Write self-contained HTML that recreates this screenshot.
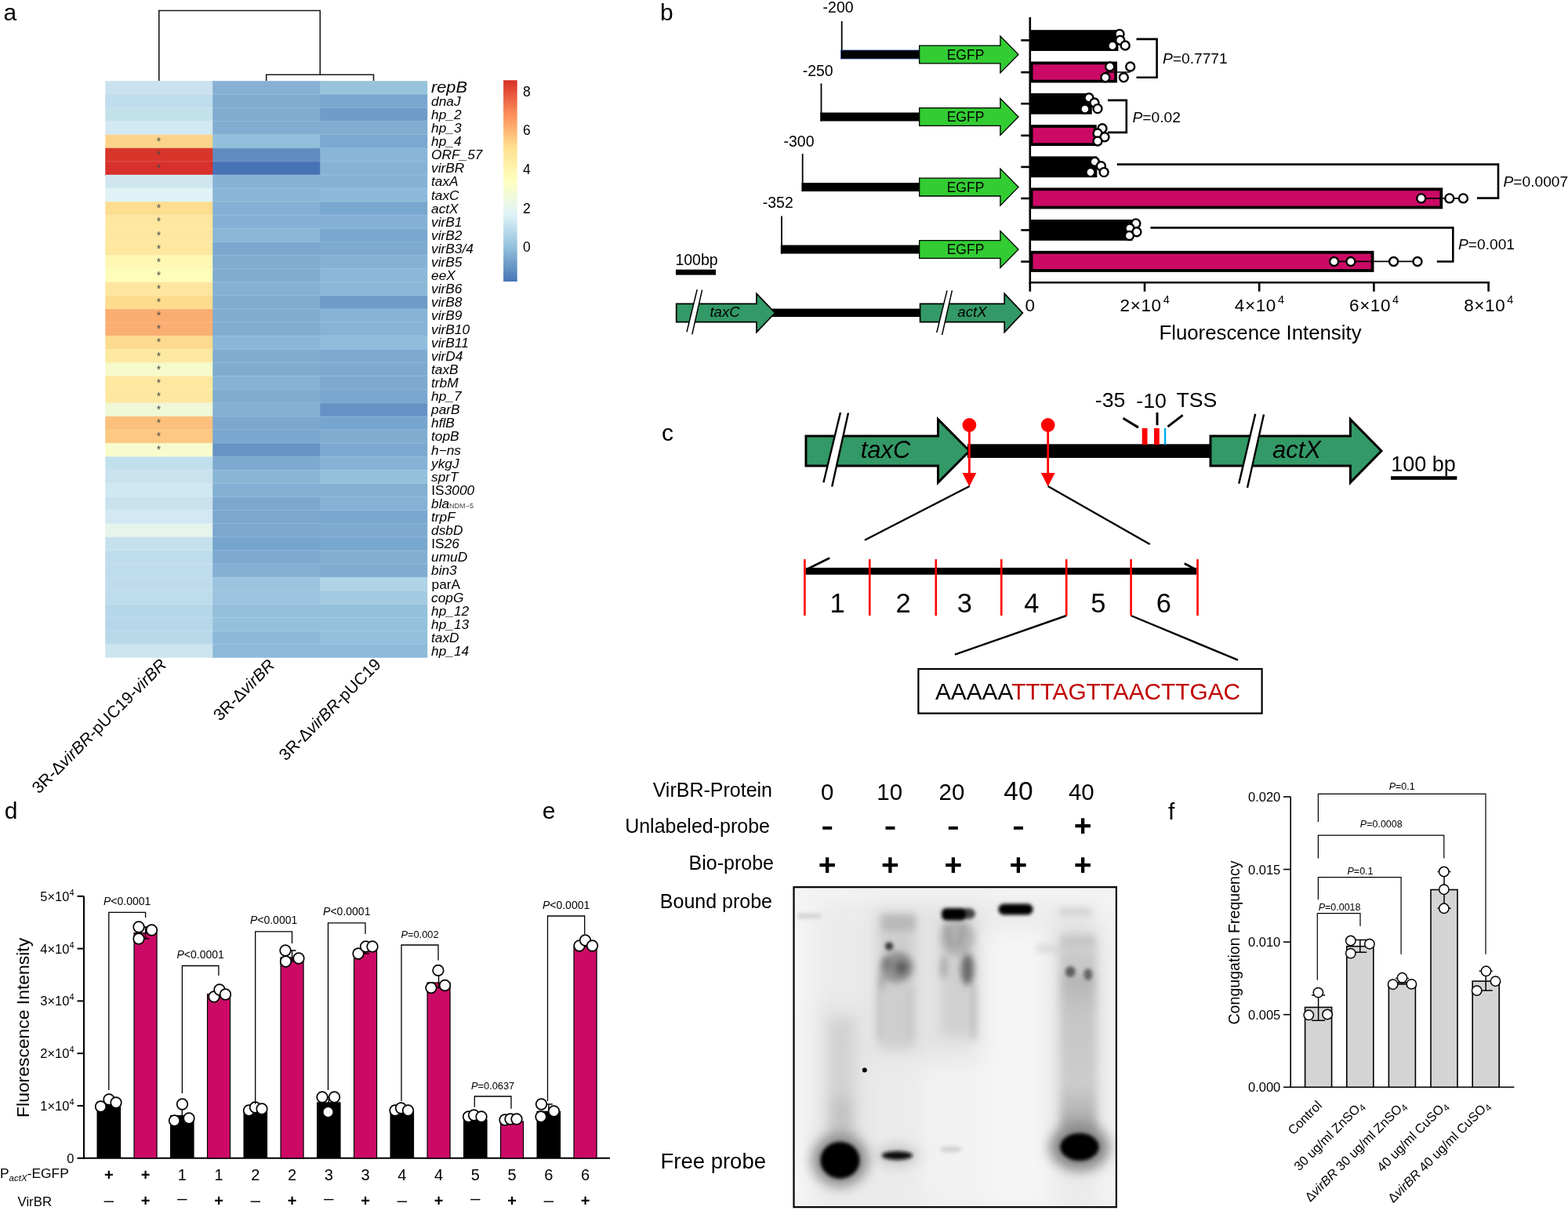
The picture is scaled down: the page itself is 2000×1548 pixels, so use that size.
<!DOCTYPE html>
<html><head><meta charset="utf-8"><title>Figure</title>
<style>html,body{margin:0;padding:0;background:#fff;} svg{display:block;} text{font-family:"Liberation Sans", Arial, sans-serif;}</style>
</head><body>
<svg width="2000" height="1548" viewBox="0 0 2000 1548" font-family='"Liberation Sans", Arial, sans-serif'>
<rect width="2000" height="1548" fill="#fff"/>
<g id="pa">
<text x="4.50" y="25.80" font-size="30" text-anchor="start" fill="#000" >a</text>
<path d="M202.8,103.2 V13.5 H408.3 V95.2 M339.7,103.2 V95.2 H476.5 V103.2" fill="none" stroke="#1a1a1a" stroke-width="1.6"/>
<rect x="134.25" y="103.20" width="138.00" height="18.11" fill="#CAE1EE"/>
<rect x="271.25" y="103.20" width="138.00" height="18.11" fill="#86B1D5"/>
<rect x="408.25" y="103.20" width="137.00" height="18.11" fill="#98C3DC"/>
<rect x="134.25" y="120.31" width="138.00" height="18.11" fill="#BFDDEC"/>
<rect x="271.25" y="120.31" width="138.00" height="18.11" fill="#80ACD0"/>
<rect x="408.25" y="120.31" width="137.00" height="18.11" fill="#78A7D0"/>
<rect x="134.25" y="137.41" width="138.00" height="18.11" fill="#C3E1EB"/>
<rect x="271.25" y="137.41" width="138.00" height="18.11" fill="#80ACD0"/>
<rect x="408.25" y="137.41" width="137.00" height="18.11" fill="#6E9DCA"/>
<rect x="134.25" y="154.52" width="138.00" height="18.11" fill="#D2E8F2"/>
<rect x="271.25" y="154.52" width="138.00" height="18.11" fill="#81ADD1"/>
<rect x="408.25" y="154.52" width="137.00" height="18.11" fill="#81ADD1"/>
<rect x="134.25" y="171.62" width="138.00" height="18.11" fill="#FBD48A"/>
<rect x="271.25" y="171.62" width="138.00" height="18.11" fill="#92BFDB"/>
<rect x="408.25" y="171.62" width="137.00" height="18.11" fill="#79A8D1"/>
<rect x="134.25" y="188.73" width="138.00" height="18.11" fill="#D8352B"/>
<rect x="271.25" y="188.73" width="138.00" height="18.11" fill="#608DC0"/>
<rect x="408.25" y="188.73" width="137.00" height="18.11" fill="#89B5D7"/>
<rect x="134.25" y="205.83" width="138.00" height="18.11" fill="#D8302A"/>
<rect x="271.25" y="205.83" width="138.00" height="18.11" fill="#4673B5"/>
<rect x="408.25" y="205.83" width="137.00" height="18.11" fill="#86B2D6"/>
<rect x="134.25" y="222.94" width="138.00" height="18.11" fill="#CFE6EF"/>
<rect x="271.25" y="222.94" width="138.00" height="18.11" fill="#86B2D6"/>
<rect x="408.25" y="222.94" width="137.00" height="18.11" fill="#86B2D6"/>
<rect x="134.25" y="240.05" width="138.00" height="18.11" fill="#E0F2F6"/>
<rect x="271.25" y="240.05" width="138.00" height="18.11" fill="#89B6D7"/>
<rect x="408.25" y="240.05" width="137.00" height="18.11" fill="#8DBADA"/>
<rect x="134.25" y="257.15" width="138.00" height="18.11" fill="#FDDD90"/>
<rect x="271.25" y="257.15" width="138.00" height="18.11" fill="#85B0D5"/>
<rect x="408.25" y="257.15" width="137.00" height="18.11" fill="#78A7D0"/>
<rect x="134.25" y="274.26" width="138.00" height="18.11" fill="#FEE79F"/>
<rect x="271.25" y="274.26" width="138.00" height="18.11" fill="#85B0D5"/>
<rect x="408.25" y="274.26" width="137.00" height="18.11" fill="#85B0D5"/>
<rect x="134.25" y="291.36" width="138.00" height="18.11" fill="#FEE7A0"/>
<rect x="271.25" y="291.36" width="138.00" height="18.11" fill="#8AB7D6"/>
<rect x="408.25" y="291.36" width="137.00" height="18.11" fill="#78A8D0"/>
<rect x="134.25" y="308.47" width="138.00" height="18.11" fill="#FEE8A0"/>
<rect x="271.25" y="308.47" width="138.00" height="18.11" fill="#7CA8D0"/>
<rect x="408.25" y="308.47" width="137.00" height="18.11" fill="#7EAAD1"/>
<rect x="134.25" y="325.58" width="138.00" height="18.11" fill="#FEF8B4"/>
<rect x="271.25" y="325.58" width="138.00" height="18.11" fill="#80ACD0"/>
<rect x="408.25" y="325.58" width="137.00" height="18.11" fill="#85B1D5"/>
<rect x="134.25" y="342.68" width="138.00" height="18.11" fill="#FEFDBA"/>
<rect x="271.25" y="342.68" width="138.00" height="18.11" fill="#80ACD0"/>
<rect x="408.25" y="342.68" width="137.00" height="18.11" fill="#8BB8D8"/>
<rect x="134.25" y="359.79" width="138.00" height="18.11" fill="#FEE69E"/>
<rect x="271.25" y="359.79" width="138.00" height="18.11" fill="#84B0D4"/>
<rect x="408.25" y="359.79" width="137.00" height="18.11" fill="#8BB8D8"/>
<rect x="134.25" y="376.89" width="138.00" height="18.11" fill="#FDDC8E"/>
<rect x="271.25" y="376.89" width="138.00" height="18.11" fill="#80ACD0"/>
<rect x="408.25" y="376.89" width="137.00" height="18.11" fill="#6E9CC8"/>
<rect x="134.25" y="394.00" width="138.00" height="18.11" fill="#FBAD70"/>
<rect x="271.25" y="394.00" width="138.00" height="18.11" fill="#80ACD0"/>
<rect x="408.25" y="394.00" width="137.00" height="18.11" fill="#86B3D6"/>
<rect x="134.25" y="411.10" width="138.00" height="18.11" fill="#FBAE72"/>
<rect x="271.25" y="411.10" width="138.00" height="18.11" fill="#80ACD0"/>
<rect x="408.25" y="411.10" width="137.00" height="18.11" fill="#86B3D6"/>
<rect x="134.25" y="428.21" width="138.00" height="18.11" fill="#FDDB8E"/>
<rect x="271.25" y="428.21" width="138.00" height="18.11" fill="#8AB7D7"/>
<rect x="408.25" y="428.21" width="137.00" height="18.11" fill="#90BDDB"/>
<rect x="134.25" y="445.32" width="138.00" height="18.11" fill="#FEE9A2"/>
<rect x="271.25" y="445.32" width="138.00" height="18.11" fill="#80ACD0"/>
<rect x="408.25" y="445.32" width="137.00" height="18.11" fill="#7EAAD1"/>
<rect x="134.25" y="462.42" width="138.00" height="18.11" fill="#F6FACA"/>
<rect x="271.25" y="462.42" width="138.00" height="18.11" fill="#80ACD0"/>
<rect x="408.25" y="462.42" width="137.00" height="18.11" fill="#7EAAD1"/>
<rect x="134.25" y="479.53" width="138.00" height="18.11" fill="#FEE8A0"/>
<rect x="271.25" y="479.53" width="138.00" height="18.11" fill="#86B2D6"/>
<rect x="408.25" y="479.53" width="137.00" height="18.11" fill="#7DA9D1"/>
<rect x="134.25" y="496.63" width="138.00" height="18.11" fill="#FEE8A0"/>
<rect x="271.25" y="496.63" width="138.00" height="18.11" fill="#80ACD0"/>
<rect x="408.25" y="496.63" width="137.00" height="18.11" fill="#78A7CF"/>
<rect x="134.25" y="513.74" width="138.00" height="18.11" fill="#F0F8D8"/>
<rect x="271.25" y="513.74" width="138.00" height="18.11" fill="#84B0D4"/>
<rect x="408.25" y="513.74" width="137.00" height="18.11" fill="#6592C5"/>
<rect x="134.25" y="530.85" width="138.00" height="18.11" fill="#FCC07C"/>
<rect x="271.25" y="530.85" width="138.00" height="18.11" fill="#7CA8D0"/>
<rect x="408.25" y="530.85" width="137.00" height="18.11" fill="#76A6CF"/>
<rect x="134.25" y="547.95" width="138.00" height="18.11" fill="#FDC882"/>
<rect x="271.25" y="547.95" width="138.00" height="18.11" fill="#78A7CF"/>
<rect x="408.25" y="547.95" width="137.00" height="18.11" fill="#80ACD0"/>
<rect x="134.25" y="565.06" width="138.00" height="18.11" fill="#F8FCCC"/>
<rect x="271.25" y="565.06" width="138.00" height="18.11" fill="#6893C5"/>
<rect x="408.25" y="565.06" width="137.00" height="18.11" fill="#7CA9D1"/>
<rect x="134.25" y="582.16" width="138.00" height="18.11" fill="#C2E0EC"/>
<rect x="271.25" y="582.16" width="138.00" height="18.11" fill="#7CA9D0"/>
<rect x="408.25" y="582.16" width="137.00" height="18.11" fill="#86B2D6"/>
<rect x="134.25" y="599.27" width="138.00" height="18.11" fill="#CAE2EE"/>
<rect x="271.25" y="599.27" width="138.00" height="18.11" fill="#8AB6D6"/>
<rect x="408.25" y="599.27" width="137.00" height="18.11" fill="#94C2DD"/>
<rect x="134.25" y="616.37" width="138.00" height="18.11" fill="#D0E8F2"/>
<rect x="271.25" y="616.37" width="138.00" height="18.11" fill="#84B0D4"/>
<rect x="408.25" y="616.37" width="137.00" height="18.11" fill="#84B0D4"/>
<rect x="134.25" y="633.48" width="138.00" height="18.11" fill="#CAE1EE"/>
<rect x="271.25" y="633.48" width="138.00" height="18.11" fill="#7CA8D0"/>
<rect x="408.25" y="633.48" width="137.00" height="18.11" fill="#86B2D6"/>
<rect x="134.25" y="650.59" width="138.00" height="18.11" fill="#D2E8F2"/>
<rect x="271.25" y="650.59" width="138.00" height="18.11" fill="#7CA8D0"/>
<rect x="408.25" y="650.59" width="137.00" height="18.11" fill="#78A7D0"/>
<rect x="134.25" y="667.69" width="138.00" height="18.11" fill="#E6F4EC"/>
<rect x="271.25" y="667.69" width="138.00" height="18.11" fill="#7CA8D0"/>
<rect x="408.25" y="667.69" width="137.00" height="18.11" fill="#7EAAD1"/>
<rect x="134.25" y="684.80" width="138.00" height="18.11" fill="#C4E1EC"/>
<rect x="271.25" y="684.80" width="138.00" height="18.11" fill="#76A5CE"/>
<rect x="408.25" y="684.80" width="137.00" height="18.11" fill="#78A7CF"/>
<rect x="134.25" y="701.90" width="138.00" height="18.11" fill="#BFDCEC"/>
<rect x="271.25" y="701.90" width="138.00" height="18.11" fill="#7EAAD1"/>
<rect x="408.25" y="701.90" width="137.00" height="18.11" fill="#82AED2"/>
<rect x="134.25" y="719.01" width="138.00" height="18.11" fill="#BFDCEC"/>
<rect x="271.25" y="719.01" width="138.00" height="18.11" fill="#84B0D4"/>
<rect x="408.25" y="719.01" width="137.00" height="18.11" fill="#80ACD1"/>
<rect x="134.25" y="736.12" width="138.00" height="18.11" fill="#BFDCEC"/>
<rect x="271.25" y="736.12" width="138.00" height="18.11" fill="#9CC4DE"/>
<rect x="408.25" y="736.12" width="137.00" height="18.11" fill="#B0D3E6"/>
<rect x="134.25" y="753.22" width="138.00" height="18.11" fill="#BFDCEC"/>
<rect x="271.25" y="753.22" width="138.00" height="18.11" fill="#9CC4DE"/>
<rect x="408.25" y="753.22" width="137.00" height="18.11" fill="#A2CAE1"/>
<rect x="134.25" y="770.33" width="138.00" height="18.11" fill="#B6D7E9"/>
<rect x="271.25" y="770.33" width="138.00" height="18.11" fill="#94C0DC"/>
<rect x="408.25" y="770.33" width="137.00" height="18.11" fill="#94C0DC"/>
<rect x="134.25" y="787.43" width="138.00" height="18.11" fill="#B6D7E9"/>
<rect x="271.25" y="787.43" width="138.00" height="18.11" fill="#94C0DC"/>
<rect x="408.25" y="787.43" width="137.00" height="18.11" fill="#94C0DC"/>
<rect x="134.25" y="804.54" width="138.00" height="18.11" fill="#B9D8EA"/>
<rect x="271.25" y="804.54" width="138.00" height="18.11" fill="#8EBADA"/>
<rect x="408.25" y="804.54" width="137.00" height="18.11" fill="#94C0DC"/>
<rect x="134.25" y="821.64" width="138.00" height="17.11" fill="#CDE5EF"/>
<rect x="271.25" y="821.64" width="138.00" height="17.11" fill="#8EBADA"/>
<rect x="408.25" y="821.64" width="137.00" height="17.11" fill="#8EBADA"/>
<line x1="134.25" y1="120.31" x2="545.25" y2="120.31" stroke="#ffffff" stroke-opacity="0.22" stroke-width="0.8"/>
<line x1="134.25" y1="137.41" x2="545.25" y2="137.41" stroke="#ffffff" stroke-opacity="0.22" stroke-width="0.8"/>
<line x1="134.25" y1="154.52" x2="545.25" y2="154.52" stroke="#ffffff" stroke-opacity="0.22" stroke-width="0.8"/>
<line x1="134.25" y1="171.62" x2="545.25" y2="171.62" stroke="#ffffff" stroke-opacity="0.22" stroke-width="0.8"/>
<line x1="134.25" y1="188.73" x2="545.25" y2="188.73" stroke="#ffffff" stroke-opacity="0.22" stroke-width="0.8"/>
<line x1="134.25" y1="205.83" x2="545.25" y2="205.83" stroke="#ffffff" stroke-opacity="0.22" stroke-width="0.8"/>
<line x1="134.25" y1="222.94" x2="545.25" y2="222.94" stroke="#ffffff" stroke-opacity="0.22" stroke-width="0.8"/>
<line x1="134.25" y1="240.05" x2="545.25" y2="240.05" stroke="#ffffff" stroke-opacity="0.22" stroke-width="0.8"/>
<line x1="134.25" y1="257.15" x2="545.25" y2="257.15" stroke="#ffffff" stroke-opacity="0.22" stroke-width="0.8"/>
<line x1="134.25" y1="274.26" x2="545.25" y2="274.26" stroke="#ffffff" stroke-opacity="0.22" stroke-width="0.8"/>
<line x1="134.25" y1="291.36" x2="545.25" y2="291.36" stroke="#ffffff" stroke-opacity="0.22" stroke-width="0.8"/>
<line x1="134.25" y1="308.47" x2="545.25" y2="308.47" stroke="#ffffff" stroke-opacity="0.22" stroke-width="0.8"/>
<line x1="134.25" y1="325.58" x2="545.25" y2="325.58" stroke="#ffffff" stroke-opacity="0.22" stroke-width="0.8"/>
<line x1="134.25" y1="342.68" x2="545.25" y2="342.68" stroke="#ffffff" stroke-opacity="0.22" stroke-width="0.8"/>
<line x1="134.25" y1="359.79" x2="545.25" y2="359.79" stroke="#ffffff" stroke-opacity="0.22" stroke-width="0.8"/>
<line x1="134.25" y1="376.89" x2="545.25" y2="376.89" stroke="#ffffff" stroke-opacity="0.22" stroke-width="0.8"/>
<line x1="134.25" y1="394.00" x2="545.25" y2="394.00" stroke="#ffffff" stroke-opacity="0.22" stroke-width="0.8"/>
<line x1="134.25" y1="411.10" x2="545.25" y2="411.10" stroke="#ffffff" stroke-opacity="0.22" stroke-width="0.8"/>
<line x1="134.25" y1="428.21" x2="545.25" y2="428.21" stroke="#ffffff" stroke-opacity="0.22" stroke-width="0.8"/>
<line x1="134.25" y1="445.32" x2="545.25" y2="445.32" stroke="#ffffff" stroke-opacity="0.22" stroke-width="0.8"/>
<line x1="134.25" y1="462.42" x2="545.25" y2="462.42" stroke="#ffffff" stroke-opacity="0.22" stroke-width="0.8"/>
<line x1="134.25" y1="479.53" x2="545.25" y2="479.53" stroke="#ffffff" stroke-opacity="0.22" stroke-width="0.8"/>
<line x1="134.25" y1="496.63" x2="545.25" y2="496.63" stroke="#ffffff" stroke-opacity="0.22" stroke-width="0.8"/>
<line x1="134.25" y1="513.74" x2="545.25" y2="513.74" stroke="#ffffff" stroke-opacity="0.22" stroke-width="0.8"/>
<line x1="134.25" y1="530.85" x2="545.25" y2="530.85" stroke="#ffffff" stroke-opacity="0.22" stroke-width="0.8"/>
<line x1="134.25" y1="547.95" x2="545.25" y2="547.95" stroke="#ffffff" stroke-opacity="0.22" stroke-width="0.8"/>
<line x1="134.25" y1="565.06" x2="545.25" y2="565.06" stroke="#ffffff" stroke-opacity="0.22" stroke-width="0.8"/>
<line x1="134.25" y1="582.16" x2="545.25" y2="582.16" stroke="#ffffff" stroke-opacity="0.22" stroke-width="0.8"/>
<line x1="134.25" y1="599.27" x2="545.25" y2="599.27" stroke="#ffffff" stroke-opacity="0.22" stroke-width="0.8"/>
<line x1="134.25" y1="616.37" x2="545.25" y2="616.37" stroke="#ffffff" stroke-opacity="0.22" stroke-width="0.8"/>
<line x1="134.25" y1="633.48" x2="545.25" y2="633.48" stroke="#ffffff" stroke-opacity="0.22" stroke-width="0.8"/>
<line x1="134.25" y1="650.59" x2="545.25" y2="650.59" stroke="#ffffff" stroke-opacity="0.22" stroke-width="0.8"/>
<line x1="134.25" y1="667.69" x2="545.25" y2="667.69" stroke="#ffffff" stroke-opacity="0.22" stroke-width="0.8"/>
<line x1="134.25" y1="684.80" x2="545.25" y2="684.80" stroke="#ffffff" stroke-opacity="0.22" stroke-width="0.8"/>
<line x1="134.25" y1="701.90" x2="545.25" y2="701.90" stroke="#ffffff" stroke-opacity="0.22" stroke-width="0.8"/>
<line x1="134.25" y1="719.01" x2="545.25" y2="719.01" stroke="#ffffff" stroke-opacity="0.22" stroke-width="0.8"/>
<line x1="134.25" y1="736.12" x2="545.25" y2="736.12" stroke="#ffffff" stroke-opacity="0.22" stroke-width="0.8"/>
<line x1="134.25" y1="753.22" x2="545.25" y2="753.22" stroke="#ffffff" stroke-opacity="0.22" stroke-width="0.8"/>
<line x1="134.25" y1="770.33" x2="545.25" y2="770.33" stroke="#ffffff" stroke-opacity="0.22" stroke-width="0.8"/>
<line x1="134.25" y1="787.43" x2="545.25" y2="787.43" stroke="#ffffff" stroke-opacity="0.22" stroke-width="0.8"/>
<line x1="134.25" y1="804.54" x2="545.25" y2="804.54" stroke="#ffffff" stroke-opacity="0.22" stroke-width="0.8"/>
<line x1="134.25" y1="821.64" x2="545.25" y2="821.64" stroke="#ffffff" stroke-opacity="0.22" stroke-width="0.8"/>
<text x="202.60" y="184.82" font-size="14" text-anchor="middle" fill="#4a4a4a" >*</text>
<text x="202.60" y="201.93" font-size="14" text-anchor="middle" fill="#4a4a4a" >*</text>
<text x="202.60" y="219.03" font-size="14" text-anchor="middle" fill="#4a4a4a" >*</text>
<text x="202.60" y="270.35" font-size="14" text-anchor="middle" fill="#4a4a4a" >*</text>
<text x="202.60" y="287.46" font-size="14" text-anchor="middle" fill="#4a4a4a" >*</text>
<text x="202.60" y="304.56" font-size="14" text-anchor="middle" fill="#4a4a4a" >*</text>
<text x="202.60" y="321.67" font-size="14" text-anchor="middle" fill="#4a4a4a" >*</text>
<text x="202.60" y="338.78" font-size="14" text-anchor="middle" fill="#4a4a4a" >*</text>
<text x="202.60" y="355.88" font-size="14" text-anchor="middle" fill="#4a4a4a" >*</text>
<text x="202.60" y="372.99" font-size="14" text-anchor="middle" fill="#4a4a4a" >*</text>
<text x="202.60" y="390.09" font-size="14" text-anchor="middle" fill="#4a4a4a" >*</text>
<text x="202.60" y="407.20" font-size="14" text-anchor="middle" fill="#4a4a4a" >*</text>
<text x="202.60" y="424.30" font-size="14" text-anchor="middle" fill="#4a4a4a" >*</text>
<text x="202.60" y="441.41" font-size="14" text-anchor="middle" fill="#4a4a4a" >*</text>
<text x="202.60" y="458.52" font-size="14" text-anchor="middle" fill="#4a4a4a" >*</text>
<text x="202.60" y="475.62" font-size="14" text-anchor="middle" fill="#4a4a4a" >*</text>
<text x="202.60" y="492.73" font-size="14" text-anchor="middle" fill="#4a4a4a" >*</text>
<text x="202.60" y="509.83" font-size="14" text-anchor="middle" fill="#4a4a4a" >*</text>
<text x="202.60" y="526.94" font-size="14" text-anchor="middle" fill="#4a4a4a" >*</text>
<text x="202.60" y="544.05" font-size="14" text-anchor="middle" fill="#4a4a4a" >*</text>
<text x="202.60" y="561.15" font-size="14" text-anchor="middle" fill="#4a4a4a" >*</text>
<text x="202.60" y="578.26" font-size="14" text-anchor="middle" fill="#4a4a4a" >*</text>
<text transform="translate(550.0,117.65) scale(1.05,1)" y="0.4" font-size="20.7" font-style="italic">repB</text>
<text transform="translate(550.0,134.76) scale(1.05,1)" font-size="16.5" font-style="italic">dnaJ</text>
<text transform="translate(550.0,151.86) scale(1.05,1)" font-size="16.5" font-style="italic">hp_2</text>
<text transform="translate(550.0,168.97) scale(1.05,1)" font-size="16.5" font-style="italic">hp_3</text>
<text transform="translate(550.0,186.08) scale(1.05,1)" font-size="16.5" font-style="italic">hp_4</text>
<text transform="translate(550.0,203.18) scale(1.05,1)" font-size="16.5" font-style="italic">ORF_57</text>
<text transform="translate(550.0,220.29) scale(1.05,1)" font-size="16.5" font-style="italic">virBR</text>
<text transform="translate(550.0,237.39) scale(1.05,1)" font-size="16.5" font-style="italic">taxA</text>
<text transform="translate(550.0,254.50) scale(1.05,1)" font-size="16.5" font-style="italic">taxC</text>
<text transform="translate(550.0,271.61) scale(1.05,1)" font-size="16.5" font-style="italic">actX</text>
<text transform="translate(550.0,288.71) scale(1.05,1)" font-size="16.5" font-style="italic">virB1</text>
<text transform="translate(550.0,305.82) scale(1.05,1)" font-size="16.5" font-style="italic">virB2</text>
<text transform="translate(550.0,322.92) scale(1.05,1)" font-size="16.5" font-style="italic">virB3/4</text>
<text transform="translate(550.0,340.03) scale(1.05,1)" font-size="16.5" font-style="italic">virB5</text>
<text transform="translate(550.0,357.13) scale(1.05,1)" font-size="16.5" font-style="italic">eeX</text>
<text transform="translate(550.0,374.24) scale(1.05,1)" font-size="16.5" font-style="italic">virB6</text>
<text transform="translate(550.0,391.35) scale(1.05,1)" font-size="16.5" font-style="italic">virB8</text>
<text transform="translate(550.0,408.45) scale(1.05,1)" font-size="16.5" font-style="italic">virB9</text>
<text transform="translate(550.0,425.56) scale(1.05,1)" font-size="16.5" font-style="italic">virB10</text>
<text transform="translate(550.0,442.66) scale(1.05,1)" font-size="16.5" font-style="italic">virB11</text>
<text transform="translate(550.0,459.77) scale(1.05,1)" font-size="16.5" font-style="italic">virD4</text>
<text transform="translate(550.0,476.87) scale(1.05,1)" font-size="16.5" font-style="italic">taxB</text>
<text transform="translate(550.0,493.98) scale(1.05,1)" font-size="16.5" font-style="italic">trbM</text>
<text transform="translate(550.0,511.09) scale(1.05,1)" font-size="16.5" font-style="italic">hp_7</text>
<text transform="translate(550.0,528.19) scale(1.05,1)" font-size="16.5" font-style="italic">parB</text>
<text transform="translate(550.0,545.30) scale(1.05,1)" font-size="16.5" font-style="italic">hflB</text>
<text transform="translate(550.0,562.40) scale(1.05,1)" font-size="16.5" font-style="italic">topB</text>
<text transform="translate(550.0,579.51) scale(1.05,1)" font-size="16.5" font-style="italic">h&#8722;ns</text>
<text transform="translate(550.0,596.62) scale(1.05,1)" font-size="16.5" font-style="italic">ykgJ</text>
<text transform="translate(550.0,613.72) scale(1.05,1)" font-size="16.5" font-style="italic">sprT</text>
<text transform="translate(550.0,630.83) scale(1.05,1)" x="0.3" font-size="16.5">IS<tspan font-style="italic">3000</tspan></text>
<text transform="translate(550.0,647.93) scale(1.05,1)" font-size="16.5"><tspan font-style="italic">bla</tspan><tspan font-size="8.6" fill="#444">NDM&#8722;5</tspan></text>
<text transform="translate(550.0,665.04) scale(1.05,1)" font-size="16.5" font-style="italic">trpF</text>
<text transform="translate(550.0,682.14) scale(1.05,1)" font-size="16.5" font-style="italic">dsbD</text>
<text transform="translate(550.0,699.25) scale(1.05,1)" x="0.3" font-size="16.5">IS<tspan font-style="italic">26</tspan></text>
<text transform="translate(550.0,716.36) scale(1.05,1)" font-size="16.5" font-style="italic">umuD</text>
<text transform="translate(550.0,733.46) scale(1.05,1)" font-size="16.5" font-style="italic">bin3</text>
<text transform="translate(550.0,750.57) scale(1.05,1)" x="0.5" font-size="16.5">parA</text>
<text transform="translate(550.0,767.67) scale(1.05,1)" font-size="16.5" font-style="italic">copG</text>
<text transform="translate(550.0,784.78) scale(1.05,1)" font-size="16.5" font-style="italic">hp_12</text>
<text transform="translate(550.0,801.89) scale(1.05,1)" font-size="16.5" font-style="italic">hp_13</text>
<text transform="translate(550.0,818.99) scale(1.05,1)" font-size="16.5" font-style="italic">taxD</text>
<text transform="translate(550.0,836.10) scale(1.05,1)" font-size="16.5" font-style="italic">hp_14</text>
<text transform="translate(213.50,849.00) rotate(-45)" font-size="21.2" text-anchor="end">3R-&#916;<tspan font-style="italic">virBR</tspan>-pUC19-<tspan font-style="italic">virBR</tspan></text>
<text transform="translate(351.50,849.50) rotate(-45)" font-size="21.2" text-anchor="end">3R-&#916;<tspan font-style="italic">virBR</tspan></text>
<text transform="translate(487.00,848.50) rotate(-45)" font-size="21.2" text-anchor="end">3R-&#916;<tspan font-style="italic">virBR</tspan>-pUC19</text>
<defs><linearGradient id="cb" x1="0" y1="1" x2="0" y2="0"><stop offset="0" stop-color="#4575B4"/><stop offset="0.1667" stop-color="#91BFDB"/><stop offset="0.3333" stop-color="#E0F3F8"/><stop offset="0.5" stop-color="#FFFFBF"/><stop offset="0.6667" stop-color="#FEE090"/><stop offset="0.8333" stop-color="#FC8D59"/><stop offset="1" stop-color="#D73027"/></linearGradient></defs>
<rect x="642.1" y="102.3" width="17.6" height="256.7" fill="url(#cb)"/>
<text x="667.00" y="122.50" font-size="17.5" text-anchor="start" fill="#000" >8</text>
<text x="667.00" y="172.20" font-size="17.5" text-anchor="start" fill="#000" >6</text>
<text x="667.00" y="222.00" font-size="17.5" text-anchor="start" fill="#000" >4</text>
<text x="667.00" y="271.70" font-size="17.5" text-anchor="start" fill="#000" >2</text>
<text x="667.00" y="320.50" font-size="17.5" text-anchor="start" fill="#000" >0</text>
</g>
<g id="pb">
<text x="842.00" y="26.40" font-size="30" text-anchor="start" fill="#000" >b</text>
<line x1="1073.7" y1="27.00" x2="1073.7" y2="75.00" stroke="#000" stroke-width="1.8"/>
<rect x="1072.50" y="64.00" width="100.20" height="11" fill="#000" stroke="#2f4f9a" stroke-width="0.8"/>
<path d="M1172.7,58.10 H1275.9 V46.00 L1299,69.50 L1275.9,93.00 V80.90 H1172.7 Z" fill="#33CC33" stroke="#000" stroke-width="1.3"/><text x="1231.50" y="75.70" font-size="17.5" text-anchor="middle" fill="#000" >EGFP</text>
<text x="1069.10" y="16.00" font-size="19.5" text-anchor="middle" fill="#000" >-200</text>
<line x1="1047.5" y1="106.50" x2="1047.5" y2="154.50" stroke="#000" stroke-width="1.8"/>
<rect x="1046.30" y="143.50" width="126.40" height="11" fill="#000"/>
<path d="M1172.7,137.60 H1275.9 V125.50 L1299,149.00 L1275.9,172.50 V160.40 H1172.7 Z" fill="#33CC33" stroke="#000" stroke-width="1.3"/><text x="1231.50" y="155.20" font-size="17.5" text-anchor="middle" fill="#000" >EGFP</text>
<text x="1043.20" y="97.00" font-size="19.5" text-anchor="middle" fill="#000" >-250</text>
<line x1="1023.7" y1="196.10" x2="1023.7" y2="244.10" stroke="#000" stroke-width="1.8"/>
<rect x="1022.50" y="233.10" width="150.20" height="11" fill="#000"/>
<path d="M1172.7,227.20 H1275.9 V215.10 L1299,238.60 L1275.9,262.10 V250.00 H1172.7 Z" fill="#33CC33" stroke="#000" stroke-width="1.3"/><text x="1231.50" y="244.80" font-size="17.5" text-anchor="middle" fill="#000" >EGFP</text>
<text x="1019.00" y="187.00" font-size="19.5" text-anchor="middle" fill="#000" >-300</text>
<line x1="997.0" y1="275.50" x2="997.0" y2="323.50" stroke="#000" stroke-width="1.8"/>
<rect x="995.80" y="312.50" width="176.90" height="11" fill="#000"/>
<path d="M1172.7,306.60 H1275.9 V294.50 L1299,318.00 L1275.9,341.50 V329.40 H1172.7 Z" fill="#33CC33" stroke="#000" stroke-width="1.3"/><text x="1231.50" y="324.20" font-size="17.5" text-anchor="middle" fill="#000" >EGFP</text>
<text x="992.30" y="264.50" font-size="19.5" text-anchor="middle" fill="#000" >-352</text>
<text x="888.50" y="337.50" font-size="19.5" text-anchor="middle" fill="#000" >100bp</text>
<rect x="862" y="343.7" width="51" height="6.9" fill="#000"/>
<rect x="985" y="393.6" width="190" height="10.5" fill="#000"/>
<path d="M862.7,387.40 H965.0 V374.40 L988.5,399.00 L965.0,423.60 V410.60 H862.7 Z" fill="#339966" stroke="#000" stroke-width="1.7"/>
<path d="M1173.6,387.40 H1281.2 V374.40 L1304.4,399.00 L1281.2,423.60 V410.60 H1173.6 Z" fill="#339966" stroke="#000" stroke-width="1.7"/>
<polygon points="889.2,369.2 895.6,369.6 882.8,426.4 876,423.2" fill="#fff"/><line x1="889.2" y1="369.2" x2="876" y2="423.2" stroke="#000" stroke-width="1.5"/><line x1="895.6" y1="369.6" x2="882.8" y2="426.4" stroke="#000" stroke-width="1.5"/>
<polygon points="1208,370.4 1214.4,370.4 1201.6,427.2 1194.8,424" fill="#fff"/><line x1="1208" y1="370.4" x2="1194.8" y2="424" stroke="#000" stroke-width="1.5"/><line x1="1214.4" y1="370.4" x2="1201.6" y2="427.2" stroke="#000" stroke-width="1.5"/>
<text x="924.60" y="403.60" font-size="18.7" text-anchor="middle" font-style="italic" fill="#000" >taxC</text>
<text x="1240.00" y="403.60" font-size="18.7" text-anchor="middle" font-style="italic" fill="#000" >actX</text>
<g stroke="#000" stroke-width="2.6" fill="none">
<path d="M1313.8,22 V361.6 M1312.5,360.3 H1900"/>
<path d="M1302.3,51.4 H1313.8"/>
<path d="M1302.3,92.2 H1313.8"/>
<path d="M1302.3,132.2 H1313.8"/>
<path d="M1302.3,172.8 H1313.8"/>
<path d="M1302.3,212.9 H1313.8"/>
<path d="M1302.3,253.0 H1313.8"/>
<path d="M1302.3,293.4 H1313.8"/>
<path d="M1302.3,333.6 H1313.8"/>
<path d="M1313.80,360.3 V371.7"/>
<path d="M1460.00,360.3 V371.7"/>
<path d="M1606.20,360.3 V371.7"/>
<path d="M1752.40,360.3 V371.7"/>
<path d="M1898.60,360.3 V371.7"/>
</g>
<rect x="1313.8" y="38.20" width="112.57" height="26.8" fill="#000"/>
<circle cx="1428" cy="43.4" r="5.5" fill="#fff" stroke="#000" stroke-width="2.4"/>
<circle cx="1428.7" cy="51.2" r="5.5" fill="#fff" stroke="#000" stroke-width="2.4"/>
<circle cx="1419" cy="58.4" r="5.5" fill="#fff" stroke="#000" stroke-width="2.4"/>
<circle cx="1435.2" cy="58" r="5.5" fill="#fff" stroke="#000" stroke-width="2.4"/>
<rect x="1315.60" y="80.40" width="107.51" height="23.2" fill="#CC0A66" stroke="#000" stroke-width="3.8"/>
<line x1="1409.9" y1="92.0" x2="1441.7" y2="92.0" stroke="#000" stroke-width="1.6"/>
<circle cx="1415.7" cy="85" r="5.5" fill="#fff" stroke="#000" stroke-width="2.4"/>
<circle cx="1409.9" cy="98.7" r="5.5" fill="#fff" stroke="#000" stroke-width="2.4"/>
<circle cx="1441.7" cy="85" r="5.5" fill="#fff" stroke="#000" stroke-width="2.4"/>
<circle cx="1433.3" cy="98.7" r="5.5" fill="#fff" stroke="#000" stroke-width="2.4"/>
<rect x="1313.8" y="118.90" width="78.95" height="26.8" fill="#000"/>
<circle cx="1389" cy="124.7" r="5.5" fill="#fff" stroke="#000" stroke-width="2.4"/>
<circle cx="1396" cy="131" r="5.5" fill="#fff" stroke="#000" stroke-width="2.4"/>
<circle cx="1383.9" cy="139" r="5.5" fill="#fff" stroke="#000" stroke-width="2.4"/>
<circle cx="1400" cy="138.6" r="5.5" fill="#fff" stroke="#000" stroke-width="2.4"/>
<rect x="1315.60" y="161.00" width="81.20" height="23.2" fill="#CC0A66" stroke="#000" stroke-width="3.8"/>
<circle cx="1406" cy="163.7" r="5.5" fill="#fff" stroke="#000" stroke-width="2.4"/>
<circle cx="1400" cy="170" r="5.5" fill="#fff" stroke="#000" stroke-width="2.4"/>
<circle cx="1409" cy="174.7" r="5.5" fill="#fff" stroke="#000" stroke-width="2.4"/>
<circle cx="1400" cy="180" r="5.5" fill="#fff" stroke="#000" stroke-width="2.4"/>
<rect x="1313.8" y="199.40" width="85.53" height="26.8" fill="#000"/>
<circle cx="1396.3" cy="206.3" r="5.5" fill="#fff" stroke="#000" stroke-width="2.4"/>
<circle cx="1404.4" cy="211.7" r="5.5" fill="#fff" stroke="#000" stroke-width="2.4"/>
<circle cx="1390.9" cy="219.6" r="5.5" fill="#fff" stroke="#000" stroke-width="2.4"/>
<circle cx="1408.1" cy="219.6" r="5.5" fill="#fff" stroke="#000" stroke-width="2.4"/>
<rect x="1315.60" y="241.30" width="522.72" height="23.2" fill="#CC0A66" stroke="#000" stroke-width="3.8"/>
<line x1="1812.8" y1="252.9" x2="1866.4" y2="252.9" stroke="#000" stroke-width="1.6"/>
<circle cx="1812.8" cy="252.9" r="5.5" fill="#fff" stroke="#000" stroke-width="2.4"/>
<circle cx="1848.8" cy="252.9" r="5.5" fill="#fff" stroke="#000" stroke-width="2.4"/>
<circle cx="1866.4" cy="252.9" r="5.5" fill="#fff" stroke="#000" stroke-width="2.4"/>
<rect x="1313.8" y="280.00" width="130.85" height="26.8" fill="#000"/>
<circle cx="1448.8" cy="284.9" r="5.5" fill="#fff" stroke="#000" stroke-width="2.4"/>
<circle cx="1441" cy="291" r="5.5" fill="#fff" stroke="#000" stroke-width="2.4"/>
<circle cx="1449.9" cy="295.8" r="5.5" fill="#fff" stroke="#000" stroke-width="2.4"/>
<circle cx="1440.4" cy="300.5" r="5.5" fill="#fff" stroke="#000" stroke-width="2.4"/>
<rect x="1315.60" y="321.80" width="435.00" height="23.2" fill="#CC0A66" stroke="#000" stroke-width="3.8"/>
<line x1="1701.6" y1="333.4" x2="1808.0" y2="333.4" stroke="#000" stroke-width="1.6"/>
<circle cx="1701.6" cy="333.5" r="5.5" fill="#fff" stroke="#000" stroke-width="2.4"/>
<circle cx="1722.9" cy="333.5" r="5.5" fill="#fff" stroke="#000" stroke-width="2.4"/>
<circle cx="1777.6" cy="333.5" r="5.5" fill="#fff" stroke="#000" stroke-width="2.4"/>
<circle cx="1808" cy="333.5" r="5.5" fill="#fff" stroke="#000" stroke-width="2.4"/>
<g stroke="#000" stroke-width="2.6" fill="none">
<path d="M1449.5,49.9 H1475.6 V98.7 H1449.5"/>
<path d="M1413,127.9 H1436.8 V168.9 H1413"/>
<path d="M1424.8,209.6 H1911 V252.6 H1884"/>
<path d="M1467.5,290.4 H1853.3 V333.5 H1832.8"/>
</g>
<text x="1483.0" y="80.6" font-size="19.2"><tspan font-style="italic">P</tspan>=0.7771</text>
<text x="1444.5" y="156.0" font-size="19.2"><tspan font-style="italic">P</tspan>=0.02</text>
<text x="1917.5" y="238.4" font-size="19.2"><tspan font-style="italic">P</tspan>=0.0007</text>
<text x="1860.0" y="317.6" font-size="19.2"><tspan font-style="italic">P</tspan>=0.001</text>
<text x="1313.80" y="396.80" font-size="22.5" text-anchor="middle" fill="#000" >0</text>
<text x="1460.50" y="396.8" font-size="22.5" text-anchor="middle" letter-spacing="0.6">2&#215;10<tspan font-size="14.5" dx="2" dy="-10">4</tspan></text>
<text x="1606.70" y="396.8" font-size="22.5" text-anchor="middle" letter-spacing="0.6">4&#215;10<tspan font-size="14.5" dx="2" dy="-10">4</tspan></text>
<text x="1752.90" y="396.8" font-size="22.5" text-anchor="middle" letter-spacing="0.6">6&#215;10<tspan font-size="14.5" dx="2" dy="-10">4</tspan></text>
<text x="1899.10" y="396.8" font-size="22.5" text-anchor="middle" letter-spacing="0.6">8&#215;10<tspan font-size="14.5" dx="2" dy="-10">4</tspan></text>
<text x="1607.50" y="433.30" font-size="25.8" text-anchor="middle" fill="#000" >Fluorescence Intensity</text>
</g>
<g id="pc">
<text x="844.00" y="562.20" font-size="30" text-anchor="start" fill="#000" >c</text>
<rect x="1234" y="566.3" width="312" height="17.6" fill="#000"/>
<path d="M1028.0,556.10 H1196.5 V534.70 L1236.6,575.00 L1196.5,615.30 V593.90 H1028.0 Z" fill="#339966" stroke="#000" stroke-width="3.0"/>
<path d="M1544.0,556.10 H1722.4 V534.70 L1762.0,575.00 L1722.4,615.30 V593.90 H1544.0 Z" fill="#339966" stroke="#000" stroke-width="3.0"/>
<polygon points="1072,526 1082,526.4 1061.2,620.4 1050.4,615.2" fill="#fff"/><line x1="1072" y1="526" x2="1050.4" y2="615.2" stroke="#000" stroke-width="2.4"/><line x1="1082" y1="526.4" x2="1061.2" y2="620.4" stroke="#000" stroke-width="2.4"/>
<polygon points="1601.2,527.8 1612,528.4 1591,622 1580.2,616.6" fill="#fff"/><line x1="1601.2" y1="527.8" x2="1580.2" y2="616.6" stroke="#000" stroke-width="2.4"/><line x1="1612" y1="528.4" x2="1591" y2="622" stroke="#000" stroke-width="2.4"/>
<text x="1129.50" y="584.00" font-size="31" text-anchor="middle" font-style="italic" fill="#000" >taxC</text>
<text x="1654.00" y="584.00" font-size="31" text-anchor="middle" font-style="italic" fill="#000" >actX</text>
<line x1="1236.4" y1="542" x2="1236.4" y2="606" stroke="#FF0000" stroke-width="2.8"/>
<circle cx="1236.4" cy="542" r="8.9" fill="#FF0000"/>
<polygon points="1227.5,603.1 1245.3000000000002,603.1 1236.4,620.5" fill="#FF0000"/>
<line x1="1336.7" y1="542" x2="1336.7" y2="606" stroke="#FF0000" stroke-width="2.8"/>
<circle cx="1336.7" cy="542" r="8.9" fill="#FF0000"/>
<polygon points="1327.8,603.1 1345.6000000000001,603.1 1336.7,620.5" fill="#FF0000"/>
<rect x="1456.7" y="546" width="6.8" height="21" fill="#FF0000"/>
<rect x="1472" y="546" width="6.8" height="21" fill="#FF0000"/>
<rect x="1484.8" y="546" width="2.5" height="21" fill="#00B0F0"/>
<g stroke="#000" stroke-width="3">
<line x1="1432.5" y1="533.2" x2="1452" y2="545.1"/>
<line x1="1476" y1="526" x2="1476" y2="542.2"/>
<line x1="1508.6" y1="529.4" x2="1489.4" y2="544.1"/>
</g>
<text x="1416.10" y="519.20" font-size="26.7" text-anchor="middle" fill="#000" >-35</text>
<text x="1468.60" y="519.60" font-size="26.7" text-anchor="middle" fill="#000" >-10</text>
<text x="1526.40" y="519.20" font-size="26.7" text-anchor="middle" fill="#000" >TSS</text>
<text x="1815.50" y="600.50" font-size="27" text-anchor="middle" fill="#000" >100 bp</text>
<rect x="1774" y="607.2" width="84.4" height="4.6" fill="#000"/>
<g stroke="#000" stroke-width="2.4">
<line x1="1236.6" y1="620" x2="1102.9" y2="688.7"/>
<line x1="1336.7" y1="620" x2="1466.7" y2="694"/>
<line x1="1360.2" y1="785" x2="1218" y2="834.7"/>
<line x1="1442.6" y1="785" x2="1579" y2="841.7"/>
</g>
<rect x="1027.5" y="723.9" width="498.5" height="8.85" fill="#000"/>
<path d="M1058.25,711.5 L1030,725.5 M1510.75,718.5 L1524,725.5" stroke="#000" stroke-width="2.6" fill="none"/>
<line x1="1026.4" y1="713.1" x2="1026.4" y2="785" stroke="#FF0000" stroke-width="2.6"/>
<line x1="1109.3" y1="713.1" x2="1109.3" y2="785" stroke="#FF0000" stroke-width="2.6"/>
<line x1="1193.8" y1="713.1" x2="1193.8" y2="785" stroke="#FF0000" stroke-width="2.6"/>
<line x1="1277.3" y1="713.1" x2="1277.3" y2="785" stroke="#FF0000" stroke-width="2.6"/>
<line x1="1360.2" y1="713.1" x2="1360.2" y2="785" stroke="#FF0000" stroke-width="2.6"/>
<line x1="1442.6" y1="713.1" x2="1442.6" y2="785" stroke="#FF0000" stroke-width="2.6"/>
<line x1="1527.5" y1="713.1" x2="1527.5" y2="785" stroke="#FF0000" stroke-width="2.6"/>
<text x="1068.00" y="780.70" font-size="34.5" text-anchor="middle" fill="#000" >1</text>
<text x="1152.00" y="780.70" font-size="34.5" text-anchor="middle" fill="#000" >2</text>
<text x="1230.40" y="780.70" font-size="34.5" text-anchor="middle" fill="#000" >3</text>
<text x="1315.90" y="780.70" font-size="34.5" text-anchor="middle" fill="#000" >4</text>
<text x="1400.80" y="780.70" font-size="34.5" text-anchor="middle" fill="#000" >5</text>
<text x="1484.40" y="780.70" font-size="34.5" text-anchor="middle" fill="#000" >6</text>
<rect x="1171.4" y="853" width="438.2" height="56.6" fill="#fff" stroke="#000" stroke-width="2.2"/>
<text x="1193" y="892" font-size="29.8">AAAAA<tspan fill="#C00000">TTTAGTTAACTTGAC</tspan></text>
</g>
<g id="pd">
<text x="5.80" y="1043.60" font-size="30" text-anchor="start" fill="#000" >d</text>
<g stroke="#000" stroke-width="2" fill="none">
<path d="M107,1142.80 V1477.8"/>
<path d="M106,1476.8 H778"/>
<path d="M98.5,1476.80 H107"/>
<path d="M98.5,1410.00 H107"/>
<path d="M98.5,1343.20 H107"/>
<path d="M98.5,1276.40 H107"/>
<path d="M98.5,1209.60 H107"/>
<path d="M98.5,1142.80 H107"/>
</g>
<text x="94.5" y="1416.00" font-size="16.5" text-anchor="end">1&#215;10<tspan font-size="11" dy="-7">4</tspan></text>
<text x="94.5" y="1349.20" font-size="16.5" text-anchor="end">2&#215;10<tspan font-size="11" dy="-7">4</tspan></text>
<text x="94.5" y="1282.40" font-size="16.5" text-anchor="end">3&#215;10<tspan font-size="11" dy="-7">4</tspan></text>
<text x="94.5" y="1215.60" font-size="16.5" text-anchor="end">4&#215;10<tspan font-size="11" dy="-7">4</tspan></text>
<text x="94.5" y="1148.80" font-size="16.5" text-anchor="end">5&#215;10<tspan font-size="11" dy="-7">4</tspan></text>
<text x="94.50" y="1482.80" font-size="16.5" text-anchor="end" fill="#000" >0</text>
<text transform="translate(36.5,1310.4) rotate(-90)" font-size="22.9" text-anchor="middle">Fluorescence Intensity</text>
<rect x="123.50" y="1404.66" width="30.6" height="72.14" fill="#000"/>
<path d="M138.80,1402.0 V1411.0 M133.80,1402.0 H143.80 M133.80,1411.0 H143.80" stroke="#000" stroke-width="1.4" fill="none"/>
<circle cx="128.5" cy="1411" r="6.8" fill="#fff" stroke="#000" stroke-width="1.7"/>
<circle cx="139" cy="1402" r="6.8" fill="#fff" stroke="#000" stroke-width="1.7"/>
<circle cx="148" cy="1406" r="6.8" fill="#fff" stroke="#000" stroke-width="1.7"/>
<rect x="171.05" y="1189.56" width="29" height="287.24" fill="#CC0A66" stroke="#000" stroke-width="1.2"/>
<path d="M185.55,1182.0 V1197.0 M180.55,1182.0 H190.55 M180.55,1197.0 H190.55" stroke="#000" stroke-width="1.4" fill="none"/>
<circle cx="177" cy="1182" r="6.8" fill="#fff" stroke="#000" stroke-width="1.7"/>
<circle cx="177" cy="1197" r="6.8" fill="#fff" stroke="#000" stroke-width="1.7"/>
<circle cx="193.5" cy="1186" r="6.8" fill="#fff" stroke="#000" stroke-width="1.7"/>
<rect x="217.00" y="1422.02" width="30.6" height="54.78" fill="#000"/>
<path d="M232.30,1408.0 V1429.0 M227.30,1408.0 H237.30 M227.30,1429.0 H237.30" stroke="#000" stroke-width="1.4" fill="none"/>
<circle cx="232.5" cy="1408" r="6.8" fill="#fff" stroke="#000" stroke-width="1.7"/>
<circle cx="222.5" cy="1429" r="6.8" fill="#fff" stroke="#000" stroke-width="1.7"/>
<circle cx="241" cy="1426" r="6.8" fill="#fff" stroke="#000" stroke-width="1.7"/>
<rect x="264.55" y="1267.72" width="29" height="209.08" fill="#CC0A66" stroke="#000" stroke-width="1.2"/>
<path d="M279.05,1262.0 V1271.0 M274.05,1262.0 H284.05 M274.05,1271.0 H284.05" stroke="#000" stroke-width="1.4" fill="none"/>
<circle cx="273" cy="1271" r="6.8" fill="#fff" stroke="#000" stroke-width="1.7"/>
<circle cx="280" cy="1262" r="6.8" fill="#fff" stroke="#000" stroke-width="1.7"/>
<circle cx="287.5" cy="1268" r="6.8" fill="#fff" stroke="#000" stroke-width="1.7"/>
<rect x="310.50" y="1416.68" width="30.6" height="60.12" fill="#000"/>
<path d="M325.80,1412.0 V1416.0 M320.80,1412.0 H330.80 M320.80,1416.0 H330.80" stroke="#000" stroke-width="1.4" fill="none"/>
<circle cx="317.5" cy="1416" r="6.8" fill="#fff" stroke="#000" stroke-width="1.7"/>
<circle cx="325.5" cy="1412" r="6.8" fill="#fff" stroke="#000" stroke-width="1.7"/>
<circle cx="334" cy="1414" r="6.8" fill="#fff" stroke="#000" stroke-width="1.7"/>
<rect x="358.05" y="1220.96" width="29" height="255.84" fill="#CC0A66" stroke="#000" stroke-width="1.2"/>
<path d="M372.55,1212.0 V1226.0 M367.55,1212.0 H377.55 M367.55,1226.0 H377.55" stroke="#000" stroke-width="1.4" fill="none"/>
<circle cx="364" cy="1212" r="6.8" fill="#fff" stroke="#000" stroke-width="1.7"/>
<circle cx="364.5" cy="1226" r="6.8" fill="#fff" stroke="#000" stroke-width="1.7"/>
<circle cx="381" cy="1222" r="6.8" fill="#fff" stroke="#000" stroke-width="1.7"/>
<rect x="404.00" y="1405.32" width="30.6" height="71.48" fill="#000"/>
<path d="M419.30,1399.0 V1418.0 M414.30,1399.0 H424.30 M414.30,1418.0 H424.30" stroke="#000" stroke-width="1.4" fill="none"/>
<circle cx="411" cy="1399" r="6.8" fill="#fff" stroke="#000" stroke-width="1.7"/>
<circle cx="426.5" cy="1399" r="6.8" fill="#fff" stroke="#000" stroke-width="1.7"/>
<circle cx="418.5" cy="1418" r="6.8" fill="#fff" stroke="#000" stroke-width="1.7"/>
<rect x="451.55" y="1210.94" width="29" height="265.86" fill="#CC0A66" stroke="#000" stroke-width="1.2"/>
<path d="M466.05,1207.0 V1216.0 M461.05,1207.0 H471.05 M461.05,1216.0 H471.05" stroke="#000" stroke-width="1.4" fill="none"/>
<circle cx="457" cy="1216" r="6.8" fill="#fff" stroke="#000" stroke-width="1.7"/>
<circle cx="466.5" cy="1207" r="6.8" fill="#fff" stroke="#000" stroke-width="1.7"/>
<circle cx="475" cy="1207" r="6.8" fill="#fff" stroke="#000" stroke-width="1.7"/>
<rect x="497.50" y="1416.68" width="30.6" height="60.12" fill="#000"/>
<path d="M512.80,1413.0 V1416.0 M507.80,1413.0 H517.80 M507.80,1416.0 H517.80" stroke="#000" stroke-width="1.4" fill="none"/>
<circle cx="504" cy="1416" r="6.8" fill="#fff" stroke="#000" stroke-width="1.7"/>
<circle cx="511.5" cy="1413" r="6.8" fill="#fff" stroke="#000" stroke-width="1.7"/>
<circle cx="520.5" cy="1416" r="6.8" fill="#fff" stroke="#000" stroke-width="1.7"/>
<rect x="545.05" y="1253.02" width="29" height="223.78" fill="#CC0A66" stroke="#000" stroke-width="1.2"/>
<path d="M559.55,1237.4 V1259.6 M554.55,1237.4 H564.55 M554.55,1259.6 H564.55" stroke="#000" stroke-width="1.4" fill="none"/>
<circle cx="558.9" cy="1237.4" r="6.8" fill="#fff" stroke="#000" stroke-width="1.7"/>
<circle cx="549.9" cy="1259.6" r="6.8" fill="#fff" stroke="#000" stroke-width="1.7"/>
<circle cx="567.5" cy="1256.5" r="6.8" fill="#fff" stroke="#000" stroke-width="1.7"/>
<rect x="591.00" y="1427.37" width="30.6" height="49.43" fill="#000"/>
<path d="M606.30,1422.0 V1424.0 M601.30,1422.0 H611.30 M601.30,1424.0 H611.30" stroke="#000" stroke-width="1.4" fill="none"/>
<circle cx="597.5" cy="1424" r="6.8" fill="#fff" stroke="#000" stroke-width="1.7"/>
<circle cx="604.5" cy="1422" r="6.8" fill="#fff" stroke="#000" stroke-width="1.7"/>
<circle cx="614" cy="1424" r="6.8" fill="#fff" stroke="#000" stroke-width="1.7"/>
<rect x="638.55" y="1430.04" width="29" height="46.76" fill="#CC0A66" stroke="#000" stroke-width="1.2"/>
<path d="M653.05,1427.0 V1428.0 M648.05,1427.0 H658.05 M648.05,1428.0 H658.05" stroke="#000" stroke-width="1.4" fill="none"/>
<circle cx="644" cy="1428" r="6.8" fill="#fff" stroke="#000" stroke-width="1.7"/>
<circle cx="651" cy="1427" r="6.8" fill="#fff" stroke="#000" stroke-width="1.7"/>
<circle cx="659" cy="1427" r="6.8" fill="#fff" stroke="#000" stroke-width="1.7"/>
<rect x="684.50" y="1416.68" width="30.6" height="60.12" fill="#000"/>
<path d="M699.80,1408.0 V1424.0 M694.80,1408.0 H704.80 M694.80,1424.0 H704.80" stroke="#000" stroke-width="1.4" fill="none"/>
<circle cx="690.5" cy="1408" r="6.8" fill="#fff" stroke="#000" stroke-width="1.7"/>
<circle cx="690" cy="1424" r="6.8" fill="#fff" stroke="#000" stroke-width="1.7"/>
<circle cx="706.5" cy="1417" r="6.8" fill="#fff" stroke="#000" stroke-width="1.7"/>
<rect x="732.05" y="1206.93" width="29" height="269.87" fill="#CC0A66" stroke="#000" stroke-width="1.2"/>
<path d="M746.55,1199.0 V1206.0 M741.55,1199.0 H751.55 M741.55,1206.0 H751.55" stroke="#000" stroke-width="1.4" fill="none"/>
<circle cx="739" cy="1206" r="6.8" fill="#fff" stroke="#000" stroke-width="1.7"/>
<circle cx="746.5" cy="1199" r="6.8" fill="#fff" stroke="#000" stroke-width="1.7"/>
<circle cx="755.5" cy="1206" r="6.8" fill="#fff" stroke="#000" stroke-width="1.7"/>
<path d="M138.8,1390 V1163.3 H185.6 V1170" fill="none" stroke="#000" stroke-width="1.3"/>
<text x="162.20" y="1154" font-size="14" text-anchor="middle"><tspan font-style="italic">P</tspan>&lt;0.0001</text>
<path d="M232.4,1394 V1231.5 H278.9 V1244" fill="none" stroke="#000" stroke-width="1.3"/>
<text x="255.65" y="1222" font-size="14" text-anchor="middle"><tspan font-style="italic">P</tspan>&lt;0.0001</text>
<path d="M325.7,1407.8 V1187.8 H372.5 V1203" fill="none" stroke="#000" stroke-width="1.3"/>
<text x="349.10" y="1178" font-size="14" text-anchor="middle"><tspan font-style="italic">P</tspan>&lt;0.0001</text>
<path d="M418.5,1390 V1176.9 H466.0 V1191" fill="none" stroke="#000" stroke-width="1.3"/>
<text x="442.25" y="1167" font-size="14" text-anchor="middle"><tspan font-style="italic">P</tspan>&lt;0.0001</text>
<path d="M512.0,1404 V1205 H559.0 V1224.5" fill="none" stroke="#000" stroke-width="1.3"/>
<text x="535.50" y="1196" font-size="12.8" text-anchor="middle"><tspan font-style="italic">P</tspan>=0.002</text>
<path d="M605.3,1411.7 V1398 H652.0 V1413.7" fill="none" stroke="#000" stroke-width="1.3"/>
<text x="628.65" y="1389" font-size="12.8" text-anchor="middle"><tspan font-style="italic">P</tspan>=0.0637</text>
<path d="M698.5,1404 V1168 H745.7 V1191" fill="none" stroke="#000" stroke-width="1.3"/>
<text x="722.10" y="1159" font-size="14" text-anchor="middle"><tspan font-style="italic">P</tspan>&lt;0.0001</text>
<text x="0" y="1501.5" font-size="17.4">P<tspan font-size="11.5" font-style="italic" dy="4">actX</tspan><tspan dy="-4">-EGFP</tspan></text>
<text x="22.50" y="1538.00" font-size="16.8" text-anchor="start" fill="#000" >VirBR</text>
<text x="138.80" y="1505.00" font-size="20" text-anchor="middle" fill="#000" font-weight="bold">+</text>
<line x1="132.60" y1="1532.2" x2="145.00" y2="1532.2" stroke="#000" stroke-width="1.4"/>
<text x="185.55" y="1505.00" font-size="20" text-anchor="middle" fill="#000" font-weight="bold">+</text>
<text x="185.55" y="1538.00" font-size="20" text-anchor="middle" fill="#000" font-weight="bold">+</text>
<text x="232.30" y="1505.00" font-size="20" text-anchor="middle" fill="#000" >1</text>
<line x1="226.10" y1="1529.6" x2="238.50" y2="1529.6" stroke="#000" stroke-width="1.4"/>
<text x="279.05" y="1505.00" font-size="20" text-anchor="middle" fill="#000" >1</text>
<text x="279.05" y="1538.00" font-size="20" text-anchor="middle" fill="#000" font-weight="bold">+</text>
<text x="325.80" y="1505.00" font-size="20" text-anchor="middle" fill="#000" >2</text>
<line x1="319.60" y1="1532.2" x2="332.00" y2="1532.2" stroke="#000" stroke-width="1.4"/>
<text x="372.55" y="1505.00" font-size="20" text-anchor="middle" fill="#000" >2</text>
<text x="372.55" y="1538.00" font-size="20" text-anchor="middle" fill="#000" font-weight="bold">+</text>
<text x="419.30" y="1505.00" font-size="20" text-anchor="middle" fill="#000" >3</text>
<line x1="413.10" y1="1529.6" x2="425.50" y2="1529.6" stroke="#000" stroke-width="1.4"/>
<text x="466.05" y="1505.00" font-size="20" text-anchor="middle" fill="#000" >3</text>
<text x="466.05" y="1538.00" font-size="20" text-anchor="middle" fill="#000" font-weight="bold">+</text>
<text x="512.80" y="1505.00" font-size="20" text-anchor="middle" fill="#000" >4</text>
<line x1="506.60" y1="1532.2" x2="519.00" y2="1532.2" stroke="#000" stroke-width="1.4"/>
<text x="559.55" y="1505.00" font-size="20" text-anchor="middle" fill="#000" >4</text>
<text x="559.55" y="1538.00" font-size="20" text-anchor="middle" fill="#000" font-weight="bold">+</text>
<text x="606.30" y="1505.00" font-size="20" text-anchor="middle" fill="#000" >5</text>
<line x1="600.10" y1="1529.6" x2="612.50" y2="1529.6" stroke="#000" stroke-width="1.4"/>
<text x="653.05" y="1505.00" font-size="20" text-anchor="middle" fill="#000" >5</text>
<text x="653.05" y="1538.00" font-size="20" text-anchor="middle" fill="#000" font-weight="bold">+</text>
<text x="699.80" y="1505.00" font-size="20" text-anchor="middle" fill="#000" >6</text>
<line x1="693.60" y1="1532.2" x2="706.00" y2="1532.2" stroke="#000" stroke-width="1.4"/>
<text x="746.55" y="1505.00" font-size="20" text-anchor="middle" fill="#000" >6</text>
<text x="746.55" y="1538.00" font-size="20" text-anchor="middle" fill="#000" font-weight="bold">+</text>
</g>
<g id="pe">
<text x="691.70" y="1043.60" font-size="30" text-anchor="start" fill="#000" >e</text>
<text x="985.00" y="1016.00" font-size="25" text-anchor="end" fill="#000" >VirBR-Protein</text>
<text x="982.00" y="1062.00" font-size="25" text-anchor="end" fill="#000" >Unlabeled-probe</text>
<text x="987.00" y="1109.00" font-size="25" text-anchor="end" fill="#000" >Bio-probe</text>
<text x="985.00" y="1157.50" font-size="25" text-anchor="end" fill="#000" >Bound probe</text>
<text x="977.00" y="1489.50" font-size="27.5" text-anchor="end" fill="#000" >Free probe</text>
<text x="1055.20" y="1019.50" font-size="29.5" text-anchor="middle" fill="#000" >0</text>
<text x="1134.70" y="1019.50" font-size="29.5" text-anchor="middle" fill="#000" >10</text>
<text x="1213.90" y="1019.50" font-size="29.5" text-anchor="middle" fill="#000" >20</text>
<text x="1299.00" y="1019.50" font-size="33.5" text-anchor="middle" fill="#000" >40</text>
<text x="1379.30" y="1019.50" font-size="29.5" text-anchor="middle" fill="#000" >40</text>
<rect x="1049.20" y="1053.8" width="12" height="4" fill="#000"/>
<rect x="1129.50" y="1053.8" width="12" height="4" fill="#000"/>
<rect x="1209.80" y="1053.8" width="12" height="4" fill="#000"/>
<rect x="1293.00" y="1053.8" width="12" height="4" fill="#000"/>
<text x="1381.20" y="1065.90" font-size="39" text-anchor="middle" fill="#000" font-weight="bold">+</text>
<text x="1055.20" y="1116.30" font-size="39" text-anchor="middle" fill="#000" font-weight="bold">+</text>
<text x="1135.50" y="1116.30" font-size="39" text-anchor="middle" fill="#000" font-weight="bold">+</text>
<text x="1215.80" y="1116.30" font-size="39" text-anchor="middle" fill="#000" font-weight="bold">+</text>
<text x="1299.00" y="1116.30" font-size="39" text-anchor="middle" fill="#000" font-weight="bold">+</text>
<text x="1381.20" y="1116.30" font-size="39" text-anchor="middle" fill="#000" font-weight="bold">+</text>
<defs>
<filter id="b2" x="-50%" y="-50%" width="200%" height="200%"><feGaussianBlur stdDeviation="2"/></filter>
<filter id="b4" x="-50%" y="-50%" width="200%" height="200%"><feGaussianBlur stdDeviation="4"/></filter>
<filter id="b6" x="-80%" y="-80%" width="260%" height="260%"><feGaussianBlur stdDeviation="6"/></filter>
<filter id="b8" x="-80%" y="-80%" width="260%" height="260%"><feGaussianBlur stdDeviation="8"/></filter>
<filter id="b14" x="-80%" y="-80%" width="260%" height="260%"><feGaussianBlur stdDeviation="14"/></filter>
<clipPath id="gelclip"><rect x="1012.5" y="1131.2" width="411.4" height="408"/></clipPath>
</defs>
<rect x="1012.5" y="1131.2" width="411.4" height="408" fill="#EBEBEB"/>
<g clip-path="url(#gelclip)">
<g filter="url(#b14)"><rect x="990" y="1120" width="48" height="430" fill="#F5F5F5"/><rect x="1402" y="1120" width="40" height="430" fill="#F3F3F3"/><rect x="1000" y="1110" width="440" height="38" fill="#F4F4F4"/><rect x="1252" y="1185" width="92" height="360" fill="#F5F5F5"/><rect x="1175" y="1340" width="80" height="200" fill="#F2F2F2"/><rect x="1112" y="1150" width="140" height="200" fill="#E3E3E3"/><rect x="1040" y="1280" width="65" height="200" fill="#E2E2E2"/><rect x="1345" y="1180" width="58" height="280" fill="#DADADA"/></g>
<g filter="url(#b8)"><rect x="1057" y="1299" width="32" height="160" fill="#D2D2D2"/><rect x="1060" y="1400" width="26" height="60" fill="#C2C2C2"/></g>
<g filter="url(#b2)"><rect x="1017" y="1164.5" width="30" height="7" fill="#D6D6D6"/></g>
<g filter="url(#b8)"><rect x="1121" y="1165" width="46" height="172" fill="#CECECE"/></g>
<g filter="url(#b4)"><rect x="1125" y="1167" width="42" height="20" fill="#B9B9B9"/><ellipse cx="1144" cy="1233" rx="21" ry="20" fill="#939393"/><ellipse cx="1125" cy="1250" rx="4" ry="14" fill="#A8A8A8"/><line x1="1122.6" y1="1258" x2="1122.6" y2="1325" stroke="#BDBDBD" stroke-width="5"/><line x1="1160.6" y1="1258" x2="1160.6" y2="1325" stroke="#C2C2C2" stroke-width="5"/><ellipse cx="1150" cy="1234" rx="9" ry="10" fill="#5E5E5E"/><ellipse cx="1131" cy="1229" rx="6" ry="8" fill="#777"/></g>
<g filter="url(#b2)"><circle cx="1134.1" cy="1206.5" r="5.2" fill="#3A3A3A"/></g>
<g filter="url(#b8)"><rect x="1200" y="1172" width="44" height="150" fill="#D0D0D0"/></g>
<g filter="url(#b4)"><ellipse cx="1221" cy="1196" rx="21" ry="23" fill="#B4B4B4"/><ellipse cx="1234" cy="1236" rx="8" ry="20" fill="#666"/><ellipse cx="1204" cy="1233" rx="4" ry="16" fill="#A6A6A6"/><path d="M1207,1178 L1213,1208 M1229,1180 L1222,1208" stroke="#959595" stroke-width="5" fill="none"/><line x1="1241.5" y1="1255" x2="1241.5" y2="1325" stroke="#A8A8A8" stroke-width="3.5"/></g>
<g filter="url(#b2)"><ellipse cx="1235" cy="1165" rx="9" ry="7" fill="#444"/></g>
<g filter="url(#b4)"><rect x="1351" y="1158" width="41" height="10" fill="#D2D2D2"/><rect x="1352" y="1192" width="45" height="20" fill="#C8C8C8"/><rect x="1322" y="1205" width="32" height="9" fill="#D8D8D8"/></g>
<defs><linearGradient id="l5" x1="0" y1="0" x2="0" y2="1"><stop offset="0" stop-color="#B4B4B4"/><stop offset="0.25" stop-color="#C6C6C6"/><stop offset="0.7" stop-color="#CCCCCC"/><stop offset="1" stop-color="#A4A4A4"/></linearGradient></defs>
<g filter="url(#b6)"><rect x="1352" y="1212" width="46" height="36" fill="#C8C8C8"/><rect x="1353" y="1243" width="45" height="200" fill="url(#l5)"/></g>
<g filter="url(#b2)"><ellipse cx="1365.3" cy="1239" rx="6.5" ry="7" fill="#5E5E5E"/><ellipse cx="1387.8" cy="1242.5" rx="5.5" ry="7.5" fill="#666"/></g>
<g filter="url(#b8)"><ellipse cx="1071.5" cy="1479.4" rx="36" ry="34" fill="#8C8C8C"/><ellipse cx="1377" cy="1463" rx="38" ry="30" fill="#858585"/><ellipse cx="1144.4" cy="1473.4" rx="26" ry="13" fill="#C4C4C4"/></g>
<g filter="url(#b2)"><ellipse cx="1071.5" cy="1479.4" rx="25" ry="23.5" fill="#000"/><ellipse cx="1377" cy="1462.5" rx="24.6" ry="17.5" fill="#000"/><ellipse cx="1144.4" cy="1473.4" rx="19.5" ry="5.5" fill="#111"/><ellipse cx="1213" cy="1465.4" rx="14" ry="4" fill="#D2D2D2"/><rect x="1201" y="1158" width="31" height="15.5" rx="6" fill="#000"/><rect x="1273.5" y="1152.5" width="44" height="14" rx="7" fill="#000"/></g>
<circle cx="1102.8" cy="1364.5" r="3" fill="#000"/>
</g>
<rect x="1012.5" y="1131.2" width="411.4" height="408" fill="none" stroke="#000" stroke-width="2.2"/>
</g>
<g id="pf">
<text x="1490.00" y="1044.50" font-size="30" text-anchor="start" fill="#000" >f</text>
<g stroke="#000" stroke-width="1.6" fill="none">
<path d="M1646.2,1016 V1387.1"/>
<path d="M1645.4,1386.3 H1931.4"/>
<path d="M1637,1386.30 H1646.2"/>
<path d="M1637,1293.72 H1646.2"/>
<path d="M1637,1201.14 H1646.2"/>
<path d="M1637,1108.56 H1646.2"/>
<path d="M1637,1015.98 H1646.2"/>
</g>
<text x="1633.30" y="1392.30" font-size="16.5" text-anchor="end" fill="#000" >0.000</text>
<text x="1633.30" y="1299.72" font-size="16.5" text-anchor="end" fill="#000" >0.005</text>
<text x="1633.30" y="1207.14" font-size="16.5" text-anchor="end" fill="#000" >0.010</text>
<text x="1633.30" y="1114.56" font-size="16.5" text-anchor="end" fill="#000" >0.015</text>
<text x="1633.30" y="1021.98" font-size="16.5" text-anchor="end" fill="#000" >0.020</text>
<text transform="translate(1580.5,1202) rotate(-90)" font-size="19.6" text-anchor="middle">Congugation Frequency</text>
<rect x="1664.60" y="1284.46" width="34" height="101.84" fill="#D4D4D4" stroke="#000" stroke-width="1.6"/>
<path d="M1681.60,1268.9 V1301.2 M1673.10,1268.9 H1690.10 M1673.10,1301.2 H1690.10" stroke="#000" stroke-width="1.5" fill="none"/>
<circle cx="1681.4" cy="1265.6" r="6.2" fill="#fff" stroke="#000" stroke-width="1.5"/>
<circle cx="1669.3" cy="1294.3" r="6.2" fill="#fff" stroke="#000" stroke-width="1.5"/>
<circle cx="1693.1" cy="1293.5" r="6.2" fill="#fff" stroke="#000" stroke-width="1.5"/>
<rect x="1717.80" y="1206.69" width="34" height="179.61" fill="#D4D4D4" stroke="#000" stroke-width="1.6"/>
<path d="M1734.80,1198.4 V1214.2 M1726.30,1198.4 H1743.30 M1726.30,1214.2 H1743.30" stroke="#000" stroke-width="1.5" fill="none"/>
<circle cx="1722.8" cy="1199.5" r="6.2" fill="#fff" stroke="#000" stroke-width="1.5"/>
<circle cx="1722.8" cy="1215.6" r="6.2" fill="#fff" stroke="#000" stroke-width="1.5"/>
<circle cx="1746.9" cy="1203.7" r="6.2" fill="#fff" stroke="#000" stroke-width="1.5"/>
<rect x="1771.40" y="1252.98" width="34" height="133.32" fill="#D4D4D4" stroke="#000" stroke-width="1.6"/>
<path d="M1788.40,1247.5 V1255 M1779.90,1247.5 H1796.90 M1779.90,1255 H1796.90" stroke="#000" stroke-width="1.5" fill="none"/>
<circle cx="1788.5" cy="1246.8" r="6.2" fill="#fff" stroke="#000" stroke-width="1.5"/>
<circle cx="1776.6" cy="1255.2" r="6.2" fill="#fff" stroke="#000" stroke-width="1.5"/>
<circle cx="1800.4" cy="1254.9" r="6.2" fill="#fff" stroke="#000" stroke-width="1.5"/>
<rect x="1825.00" y="1134.48" width="34" height="251.82" fill="#D4D4D4" stroke="#000" stroke-width="1.6"/>
<path d="M1842.00,1111.5 V1158.3 M1833.50,1111.5 H1850.50 M1833.50,1158.3 H1850.50" stroke="#000" stroke-width="1.5" fill="none"/>
<circle cx="1841.8" cy="1111.5" r="6.2" fill="#fff" stroke="#000" stroke-width="1.5"/>
<circle cx="1841.8" cy="1134.2" r="6.2" fill="#fff" stroke="#000" stroke-width="1.5"/>
<circle cx="1841.8" cy="1158.3" r="6.2" fill="#fff" stroke="#000" stroke-width="1.5"/>
<rect x="1878.20" y="1251.13" width="34" height="135.17" fill="#D4D4D4" stroke="#000" stroke-width="1.6"/>
<path d="M1895.20,1238.3 V1263.1 M1886.70,1238.3 H1903.70 M1886.70,1263.1 H1903.70" stroke="#000" stroke-width="1.5" fill="none"/>
<circle cx="1895.5" cy="1238.3" r="6.2" fill="#fff" stroke="#000" stroke-width="1.5"/>
<circle cx="1907.5" cy="1251.2" r="6.2" fill="#fff" stroke="#000" stroke-width="1.5"/>
<circle cx="1883.7" cy="1263.1" r="6.2" fill="#fff" stroke="#000" stroke-width="1.5"/>
<path d="M1680.3,1249.8 V1164.6 H1735.0 V1181" fill="none" stroke="#000" stroke-width="1.2"/>
<text x="1708.6" y="1160.5" font-size="12.5" text-anchor="middle"><tspan font-style="italic">P</tspan>=0.0018</text>
<path d="M1681.4,1147 V1118.7 H1787.1 V1216.7" fill="none" stroke="#000" stroke-width="1.2"/>
<text x="1735.0" y="1114.5" font-size="12.5" text-anchor="middle"><tspan font-style="italic">P</tspan>=0.1</text>
<path d="M1681.4,1094.5 V1065.2 H1841.8 V1094.5" fill="none" stroke="#000" stroke-width="1.2"/>
<text x="1761.8" y="1055.0" font-size="12.5" text-anchor="middle"><tspan font-style="italic">P</tspan>=0.0008</text>
<path d="M1681.4,1047.9 V1012.3 H1895.0 V1216.7" fill="none" stroke="#000" stroke-width="1.2"/>
<text x="1788.2" y="1007.3" font-size="12.5" text-anchor="middle"><tspan font-style="italic">P</tspan>=0.1</text>
<text transform="translate(1687.00,1410.50) rotate(-45)" font-size="16.5" text-anchor="end">Control</text>
<text transform="translate(1740.50,1410.50) rotate(-45)" font-size="16.5" text-anchor="end">30 ug/ml ZnSO<tspan font-size="12" dy="3.5">4</tspan></text>
<text transform="translate(1794.00,1410.50) rotate(-45)" font-size="16.5" text-anchor="end">&#916;<tspan font-style="italic">virBR</tspan> 30 ug/ml ZnSO<tspan font-size="12" dy="3.5">4</tspan></text>
<text transform="translate(1847.50,1410.50) rotate(-45)" font-size="16.5" text-anchor="end">40 ug/ml CuSO<tspan font-size="12" dy="3.5">4</tspan></text>
<text transform="translate(1901.00,1410.50) rotate(-45)" font-size="16.5" text-anchor="end">&#916;<tspan font-style="italic">virBR</tspan> 40 ug/ml CuSO<tspan font-size="12" dy="3.5">4</tspan></text>
</g>
</svg>
</body></html>
